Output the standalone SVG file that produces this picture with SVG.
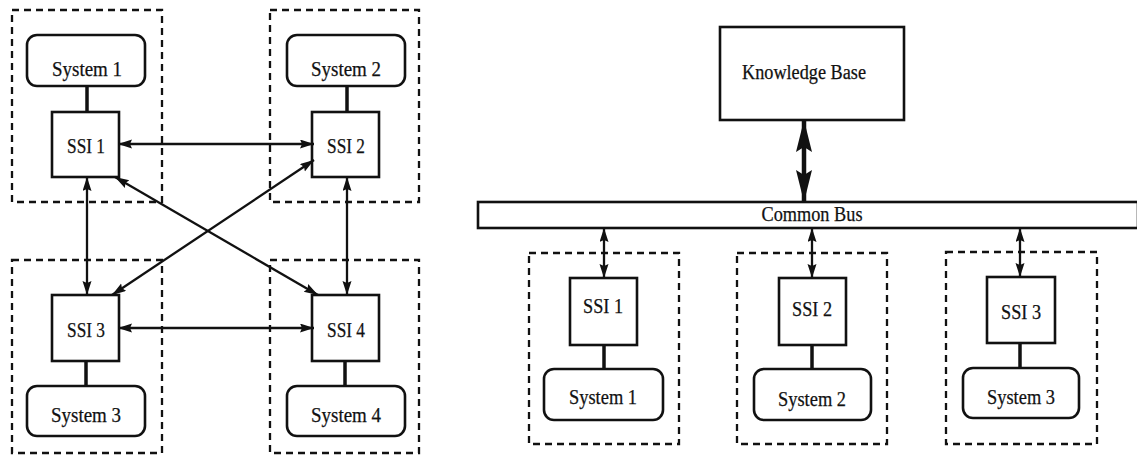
<svg xmlns="http://www.w3.org/2000/svg" width="1137" height="455" viewBox="0 0 1137 455">
  <style>
    .group { fill: none; stroke: #111; stroke-width: 2.3; stroke-dasharray: 7 5; }
    .sys { fill: #fff; stroke: #111; stroke-width: 2.6; }
    .ssi { fill: #fff; stroke: #111; stroke-width: 2.6; }
    .kb { fill: #fff; stroke: #111; stroke-width: 2.6; }
    .bus { fill: #fff; stroke: #111; stroke-width: 2.6; }
    .link { fill: none; stroke: #111; stroke-width: 3.5; }
    .msg { fill: none; stroke: #111; stroke-width: 2.3; marker-start: url(#arr); marker-end: url(#arr); }
    .kbmsg { fill: none; stroke: #111; stroke-width: 4.5; marker-start: url(#arrBig); marker-end: url(#arrBig); }
    text { font-family: "Liberation Serif", "Times New Roman", serif; font-size: 20px; fill: #111; stroke: #111; stroke-width: 0.25; text-anchor: middle; }
  </style>
  <defs>
    <marker id="arr" markerUnits="userSpaceOnUse" markerWidth="15" markerHeight="10" refX="14" refY="4.5" orient="auto-start-reverse">
      <path d="M0,0 L14,4.5 L0,9 L2,4.5 z" fill="#111"/>
    </marker>
    <marker id="arrBig" markerUnits="userSpaceOnUse" markerWidth="34" markerHeight="18" refX="32" refY="8" orient="auto-start-reverse">
      <path d="M0,0 L32,8 L0,16 L5,8 z" fill="#111"/>
    </marker>
  </defs>

  <!-- Peer-to-peer arrangement -->
  <g id="site1-left">
    <rect class="group" x="12" y="10" width="150" height="192"/>
    <g id="system1-left">
      <rect class="sys" x="27" y="35" width="118" height="51" rx="10"/>
      <text x="87" y="76" textLength="70" lengthAdjust="spacingAndGlyphs">System 1</text>
    </g>
    <g id="ssi1-left">
      <rect class="ssi" x="52" y="112" width="67" height="65"/>
      <text x="86" y="153" textLength="38" lengthAdjust="spacingAndGlyphs">SSI 1</text>
    </g>
  </g>
  <g id="site2-left">
    <rect class="group" x="270" y="10" width="149" height="192"/>
    <g id="system2-left">
      <rect class="sys" x="287" y="35" width="118" height="51" rx="10"/>
      <text x="346" y="76" textLength="70" lengthAdjust="spacingAndGlyphs">System 2</text>
    </g>
    <g id="ssi2-left">
      <rect class="ssi" x="312" y="112" width="67" height="65"/>
      <text x="346" y="153" textLength="38" lengthAdjust="spacingAndGlyphs">SSI 2</text>
    </g>
  </g>
  <g id="site3-left">
    <rect class="group" x="12" y="260" width="150" height="193"/>
    <g id="ssi3-left">
      <rect class="ssi" x="52" y="295" width="67" height="66"/>
      <text x="86" y="337" textLength="38" lengthAdjust="spacingAndGlyphs">SSI 3</text>
    </g>
    <g id="system3-left">
      <rect class="sys" x="27" y="386" width="118" height="50" rx="10"/>
      <text x="86" y="422" textLength="70" lengthAdjust="spacingAndGlyphs">System 3</text>
    </g>
  </g>
  <g id="site4-left">
    <rect class="group" x="270" y="260" width="149" height="193"/>
    <g id="ssi4-left">
      <rect class="ssi" x="312" y="295" width="67" height="66"/>
      <text x="346" y="337" textLength="38" lengthAdjust="spacingAndGlyphs">SSI 4</text>
    </g>
    <g id="system4-left">
      <rect class="sys" x="287" y="386" width="118" height="50" rx="10"/>
      <text x="346" y="422" textLength="70" lengthAdjust="spacingAndGlyphs">System 4</text>
    </g>
  </g>

  <!-- Shared-bus arrangement -->
  <g id="knowledge-base">
    <rect class="kb" x="720" y="27" width="184" height="93"/>
    <text x="804" y="79" textLength="124" lengthAdjust="spacingAndGlyphs">Knowledge Base</text>
  </g>
  <g id="common-bus">
    <rect class="bus" x="478" y="202" width="660" height="26"/>
    <text x="812" y="221" textLength="101" lengthAdjust="spacingAndGlyphs">Common Bus</text>
  </g>
  <g id="site1-right">
    <rect class="group" x="529" y="253" width="150" height="191"/>
    <g id="ssi1-right">
      <rect class="ssi" x="570" y="278" width="67" height="67"/>
      <text x="603" y="313" textLength="40" lengthAdjust="spacingAndGlyphs">SSI 1</text>
    </g>
    <g id="system1-right">
      <rect class="sys" x="544" y="369" width="119" height="51" rx="10"/>
      <text x="603" y="404" textLength="68" lengthAdjust="spacingAndGlyphs">System 1</text>
    </g>
  </g>
  <g id="site2-right">
    <rect class="group" x="737" y="253" width="150" height="191"/>
    <g id="ssi2-right">
      <rect class="ssi" x="779" y="278" width="67" height="67"/>
      <text x="812" y="316" textLength="40" lengthAdjust="spacingAndGlyphs">SSI 2</text>
    </g>
    <g id="system2-right">
      <rect class="sys" x="754" y="369" width="117" height="51" rx="10"/>
      <text x="812" y="406" textLength="68" lengthAdjust="spacingAndGlyphs">System 2</text>
    </g>
  </g>
  <g id="site3-right">
    <rect class="group" x="946" y="252" width="151" height="192"/>
    <g id="ssi3-right">
      <rect class="ssi" x="987" y="277" width="68" height="66"/>
      <text x="1021" y="319" textLength="40" lengthAdjust="spacingAndGlyphs">SSI 3</text>
    </g>
    <g id="system3-right">
      <rect class="sys" x="963" y="368" width="116" height="50" rx="10"/>
      <text x="1021" y="404" textLength="68" lengthAdjust="spacingAndGlyphs">System 3</text>
    </g>
  </g>

  <g id="connectors">
    <!-- system to interface links -->
    <line class="link" x1="87" y1="86" x2="87" y2="112"/>
    <line class="link" x1="347" y1="86" x2="347" y2="112"/>
    <line class="link" x1="86" y1="361" x2="86" y2="386"/>
    <line class="link" x1="345" y1="361" x2="345" y2="386"/>
    <line class="link" x1="604" y1="345" x2="604" y2="369"/>
    <line class="link" x1="812" y1="345" x2="812" y2="369"/>
    <line class="link" x1="1020" y1="343" x2="1020" y2="368"/>

    <!-- interface to interface messages -->
    <line class="msg" x1="118" y1="144" x2="314" y2="144"/>
    <line class="msg" x1="118" y1="328" x2="314" y2="328"/>
    <line class="msg" x1="87" y1="177" x2="87" y2="295"/>
    <line class="msg" x1="347" y1="177" x2="347" y2="295"/>
    <line class="msg" x1="115" y1="177" x2="318" y2="295"/>
    <line class="msg" x1="314" y1="160" x2="112" y2="295"/>

    <!-- bus traffic -->
    <line class="kbmsg" x1="804" y1="120" x2="804" y2="202"/>
    <line class="msg" x1="604" y1="228" x2="604" y2="278"/>
    <line class="msg" x1="812" y1="228" x2="812" y2="278"/>
    <line class="msg" x1="1020" y1="228" x2="1020" y2="277"/>
  </g>
</svg>
